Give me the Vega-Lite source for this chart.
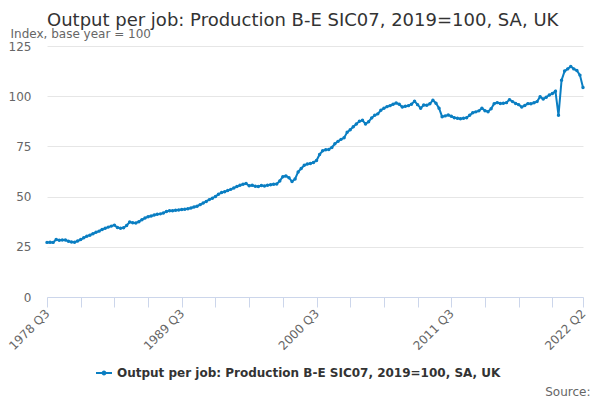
{
  "$schema": "https://vega.github.io/schema/vega-lite/v6.json",
  "autosize": {"type": "none"},
  "width": 536,
  "height": 251,
  "padding": {"left": 47, "top": 46, "right": 17, "bottom": 103},
  "title": {
    "text": "Output per job: Production B-E SIC07, 2019=100, SA, UK",
    "anchor": "start",
    "frame": "group",
    "fontSize": 18,
    "fontWeight": "normal",
    "color": "#333333",
    "offset": -3
  },
  "data": {
    "values": [
      {"q": "1978 Q3", "v": 27.2}, {"q": "1978 Q4", "v": 27.3},
      {"q": "1979 Q1", "v": 27.2}, {"q": "1979 Q2", "v": 28.6}, {"q": "1979 Q3", "v": 28.3}, {"q": "1979 Q4", "v": 28.4},
      {"q": "1980 Q1", "v": 28.4}, {"q": "1980 Q2", "v": 27.8}, {"q": "1980 Q3", "v": 27.4}, {"q": "1980 Q4", "v": 27.3},
      {"q": "1981 Q1", "v": 27.9}, {"q": "1981 Q2", "v": 28.6}, {"q": "1981 Q3", "v": 29.5}, {"q": "1981 Q4", "v": 30.3},
      {"q": "1982 Q1", "v": 30.8}, {"q": "1982 Q2", "v": 31.5}, {"q": "1982 Q3", "v": 32.2}, {"q": "1982 Q4", "v": 32.8},
      {"q": "1983 Q1", "v": 33.6}, {"q": "1983 Q2", "v": 34.2}, {"q": "1983 Q3", "v": 34.8}, {"q": "1983 Q4", "v": 35.3},
      {"q": "1984 Q1", "v": 35.8}, {"q": "1984 Q2", "v": 34.6}, {"q": "1984 Q3", "v": 34.2}, {"q": "1984 Q4", "v": 34.5},
      {"q": "1985 Q1", "v": 35.6}, {"q": "1985 Q2", "v": 37.3}, {"q": "1985 Q3", "v": 37.0}, {"q": "1985 Q4", "v": 36.9},
      {"q": "1986 Q1", "v": 37.5}, {"q": "1986 Q2", "v": 38.5}, {"q": "1986 Q3", "v": 39.3}, {"q": "1986 Q4", "v": 40.0},
      {"q": "1987 Q1", "v": 40.3}, {"q": "1987 Q2", "v": 40.8}, {"q": "1987 Q3", "v": 41.2}, {"q": "1987 Q4", "v": 41.4},
      {"q": "1988 Q1", "v": 41.8}, {"q": "1988 Q2", "v": 42.6}, {"q": "1988 Q3", "v": 43.0}, {"q": "1988 Q4", "v": 43.0},
      {"q": "1989 Q1", "v": 43.2}, {"q": "1989 Q2", "v": 43.3}, {"q": "1989 Q3", "v": 43.6}, {"q": "1989 Q4", "v": 43.7},
      {"q": "1990 Q1", "v": 43.9}, {"q": "1990 Q2", "v": 44.3}, {"q": "1990 Q3", "v": 44.8}, {"q": "1990 Q4", "v": 45.2},
      {"q": "1991 Q1", "v": 46.0}, {"q": "1991 Q2", "v": 46.8}, {"q": "1991 Q3", "v": 47.6}, {"q": "1991 Q4", "v": 48.5},
      {"q": "1992 Q1", "v": 49.2}, {"q": "1992 Q2", "v": 50.0}, {"q": "1992 Q3", "v": 51.2}, {"q": "1992 Q4", "v": 52.0},
      {"q": "1993 Q1", "v": 52.4}, {"q": "1993 Q2", "v": 53.0}, {"q": "1993 Q3", "v": 53.6}, {"q": "1993 Q4", "v": 54.3},
      {"q": "1994 Q1", "v": 55.0}, {"q": "1994 Q2", "v": 55.6}, {"q": "1994 Q3", "v": 56.2}, {"q": "1994 Q4", "v": 56.5},
      {"q": "1995 Q1", "v": 55.4}, {"q": "1995 Q2", "v": 55.6}, {"q": "1995 Q3", "v": 55.2}, {"q": "1995 Q4", "v": 55.0},
      {"q": "1996 Q1", "v": 55.5}, {"q": "1996 Q2", "v": 55.3}, {"q": "1996 Q3", "v": 55.7}, {"q": "1996 Q4", "v": 55.9},
      {"q": "1997 Q1", "v": 56.1}, {"q": "1997 Q2", "v": 56.3}, {"q": "1997 Q3", "v": 57.8}, {"q": "1997 Q4", "v": 59.9},
      {"q": "1998 Q1", "v": 60.3}, {"q": "1998 Q2", "v": 59.4}, {"q": "1998 Q3", "v": 57.5}, {"q": "1998 Q4", "v": 58.8},
      {"q": "1999 Q1", "v": 62.3}, {"q": "1999 Q2", "v": 64.0}, {"q": "1999 Q3", "v": 65.6}, {"q": "1999 Q4", "v": 66.2},
      {"q": "2000 Q1", "v": 66.5}, {"q": "2000 Q2", "v": 67.0}, {"q": "2000 Q3", "v": 68.0}, {"q": "2000 Q4", "v": 71.0},
      {"q": "2001 Q1", "v": 72.8}, {"q": "2001 Q2", "v": 73.3}, {"q": "2001 Q3", "v": 73.5}, {"q": "2001 Q4", "v": 74.5},
      {"q": "2002 Q1", "v": 76.3}, {"q": "2002 Q2", "v": 77.5}, {"q": "2002 Q3", "v": 78.5}, {"q": "2002 Q4", "v": 79.3},
      {"q": "2003 Q1", "v": 82.0}, {"q": "2003 Q2", "v": 83.3}, {"q": "2003 Q3", "v": 84.8}, {"q": "2003 Q4", "v": 86.2},
      {"q": "2004 Q1", "v": 87.5}, {"q": "2004 Q2", "v": 88.0}, {"q": "2004 Q3", "v": 86.2}, {"q": "2004 Q4", "v": 87.3},
      {"q": "2005 Q1", "v": 89.2}, {"q": "2005 Q2", "v": 90.5}, {"q": "2005 Q3", "v": 91.2}, {"q": "2005 Q4", "v": 93.0},
      {"q": "2006 Q1", "v": 94.0}, {"q": "2006 Q2", "v": 94.8}, {"q": "2006 Q3", "v": 95.3}, {"q": "2006 Q4", "v": 96.0},
      {"q": "2007 Q1", "v": 96.6}, {"q": "2007 Q2", "v": 96.0}, {"q": "2007 Q3", "v": 94.6}, {"q": "2007 Q4", "v": 95.0},
      {"q": "2008 Q1", "v": 95.3}, {"q": "2008 Q2", "v": 96.0}, {"q": "2008 Q3", "v": 97.5}, {"q": "2008 Q4", "v": 95.8},
      {"q": "2009 Q1", "v": 94.0}, {"q": "2009 Q2", "v": 95.6}, {"q": "2009 Q3", "v": 95.5}, {"q": "2009 Q4", "v": 96.2},
      {"q": "2010 Q1", "v": 98.0}, {"q": "2010 Q2", "v": 96.5}, {"q": "2010 Q3", "v": 94.0}, {"q": "2010 Q4", "v": 89.8},
      {"q": "2011 Q1", "v": 90.2}, {"q": "2011 Q2", "v": 90.6}, {"q": "2011 Q3", "v": 90.0}, {"q": "2011 Q4", "v": 89.3},
      {"q": "2012 Q1", "v": 89.0}, {"q": "2012 Q2", "v": 88.8}, {"q": "2012 Q3", "v": 89.0}, {"q": "2012 Q4", "v": 89.3},
      {"q": "2013 Q1", "v": 90.5}, {"q": "2013 Q2", "v": 91.8}, {"q": "2013 Q3", "v": 92.2}, {"q": "2013 Q4", "v": 92.7},
      {"q": "2014 Q1", "v": 94.0}, {"q": "2014 Q2", "v": 92.8}, {"q": "2014 Q3", "v": 92.3}, {"q": "2014 Q4", "v": 93.8},
      {"q": "2015 Q1", "v": 96.3}, {"q": "2015 Q2", "v": 96.8}, {"q": "2015 Q3", "v": 96.4}, {"q": "2015 Q4", "v": 96.5},
      {"q": "2016 Q1", "v": 96.8}, {"q": "2016 Q2", "v": 98.3}, {"q": "2016 Q3", "v": 97.3}, {"q": "2016 Q4", "v": 96.4},
      {"q": "2017 Q1", "v": 95.8}, {"q": "2017 Q2", "v": 94.6}, {"q": "2017 Q3", "v": 95.4}, {"q": "2017 Q4", "v": 96.3},
      {"q": "2018 Q1", "v": 96.2}, {"q": "2018 Q2", "v": 96.7}, {"q": "2018 Q3", "v": 97.3}, {"q": "2018 Q4", "v": 99.7},
      {"q": "2019 Q1", "v": 98.6}, {"q": "2019 Q2", "v": 99.5}, {"q": "2019 Q3", "v": 100.6}, {"q": "2019 Q4", "v": 101.3},
      {"q": "2020 Q1", "v": 102.5}, {"q": "2020 Q2", "v": 90.5}, {"q": "2020 Q3", "v": 108.0}, {"q": "2020 Q4", "v": 112.5},
      {"q": "2021 Q1", "v": 113.6}, {"q": "2021 Q2", "v": 114.8}, {"q": "2021 Q3", "v": 113.6}, {"q": "2021 Q4", "v": 112.8},
      {"q": "2022 Q1", "v": 110.5}, {"q": "2022 Q2", "v": 104.3}
    ]
  },
  "mark": {
    "type": "line",
    "strokeWidth": 2,
    "point": {"filled": true, "size": 12}
  },
  "encoding": {
    "x": {
      "field": "q",
      "type": "ordinal",
      "sort": null,
      "scale": {"type": "point", "padding": 0},
      "axis": {
        "title": "Source:",
        "titleFontSize": 12,
        "titleFontWeight": "normal",
        "titleColor": "#666666",
        "titleAlign": "right",
        "titleBaseline": "alphabetic",
        "titleX": 543,
        "titleY": 98,
        "values": ["1978 Q3", "1981 Q2", "1984 Q1", "1986 Q4", "1989 Q3", "1992 Q2", "1995 Q1", "1997 Q4", "2000 Q3", "2003 Q2", "2006 Q1", "2008 Q4", "2011 Q3", "2014 Q2", "2017 Q1", "2019 Q4", "2022 Q2"],
        "labelExpr": "indexof(['1978 Q3','1989 Q3','2000 Q3','2011 Q3','2022 Q2'], datum.value) >= 0 ? datum.value : ''",
        "labelAngle": -45,
        "labelAlign": "right",
        "labelBaseline": "middle",
        "labelOverlap": false,
        "labelBound": false,
        "labelFontSize": 12,
        "labelColor": "#666666",
        "labelPadding": 4,
        "domainColor": "#ccd6eb",
        "tickColor": "#ccd6eb",
        "tickSize": 10,
        "grid": false
      }
    },
    "y": {
      "field": "v",
      "type": "quantitative",
      "scale": {"domain": [0, 125], "nice": false},
      "axis": {
        "title": "Index, base year = 100",
        "titleAngle": 0,
        "titleAlign": "left",
        "titleBaseline": "alphabetic",
        "titleX": -37,
        "titleY": -9,
        "titleFontSize": 12,
        "titleFontWeight": "normal",
        "titleColor": "#666666",
        "values": [0, 25, 50, 75, 100, 125],
        "labelFontSize": 12,
        "labelColor": "#666666",
        "labelPadding": 16,
        "domain": false,
        "ticks": false,
        "grid": true,
        "gridColor": "#e6e6e6"
      }
    },
    "color": {
      "datum": "Output per job: Production B-E SIC07, 2019=100, SA, UK",
      "type": "nominal",
      "scale": {"range": ["#0a7ec2"]},
      "legend": {
        "title": null,
        "orient": "none",
        "legendX": 49,
        "legendY": 319,
        "symbolType": "M-1,-0.12L1,-0.12L1,0.12L-1,0.12Z M-0.3,0A0.3,0.3 0 1 1 0.3,0A0.3,0.3 0 1 1 -0.3,0Z",
        "symbolSize": 256,
        "symbolFillColor": "#0a7ec2",
        "symbolStrokeWidth": 0,
        "labelFontSize": 12,
        "labelFontWeight": "bold",
        "labelColor": "#333333",
        "labelOffset": 5,
        "labelLimit": 600
      }
    }
  },
  "config": {
    "font": "DejaVu Sans",
    "view": {"stroke": null}
  }
}
